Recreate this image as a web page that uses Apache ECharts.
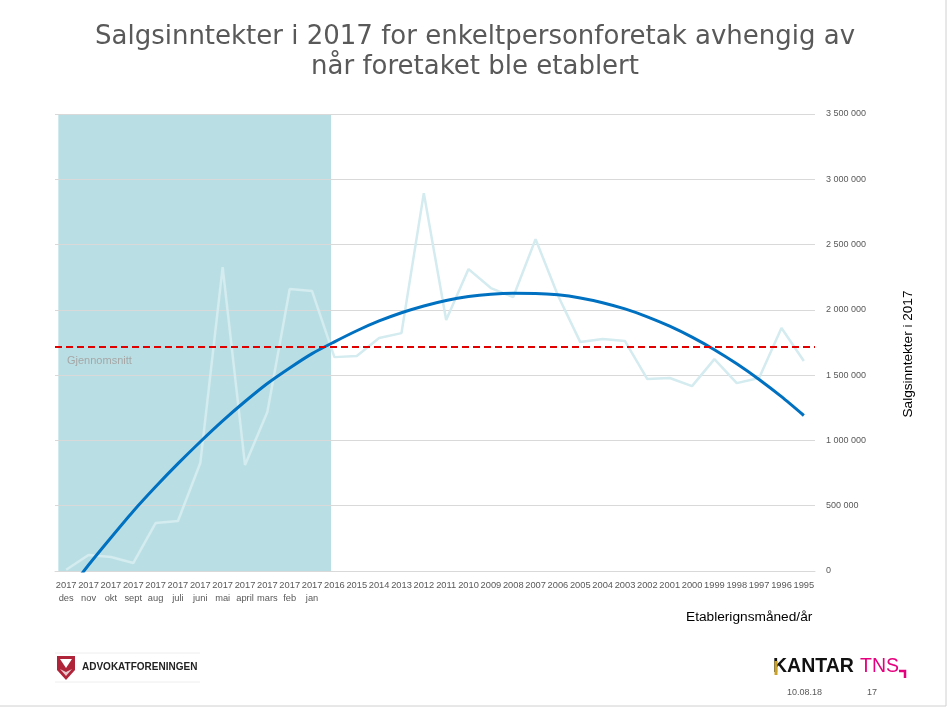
<!DOCTYPE html>
<html>
<head>
<meta charset="utf-8">
<script src="https://cdn.jsdelivr.net/npm/echarts@6/dist/echarts.min.js"></script>
<style>
html,body{margin:0;padding:0;background:#fff;}
#chart{width:950px;height:710px;}
</style>
</head>
<body>
<div id="chart"></div>
<script>
// ---- data ----
var periodYears = ['2017','2017','2017','2017','2017','2017','2017','2017','2017','2017','2017','2017',
  '2016','2015','2014','2013','2012','2011','2010','2009','2008','2007','2006','2005','2004','2003',
  '2002','2001','2000','1999','1998','1997','1996','1995'];
var periodMonths = ['des','nov','okt','sept','aug','juli','juni','mai','april','mars','feb','jan'];
var salesValues = [10000,122000,107000,61000,367000,383000,827000,2328000,812000,1217000,2159000,2144000,
  1638000,1646000,1784000,1822000,2894000,1922000,2312000,2167000,2098000,2542000,2110000,1753000,1776000,1761000,
  1470000,1478000,1416000,1623000,1439000,1478000,1861000,1608000];
var trendValues = [-180000,46000,255000,458000,645000,822000,990000,1150000,1298000,1436000,1555000,1665000,
  1755000,1840000,1915000,1978000,2030000,2072000,2102000,2120000,2127000,2126000,2115000,2091000,2055000,2007000,
  1947000,1875000,1791000,1695000,1587000,1467000,1335000,1191000];
var averageValue = 1717000;
var yTicks = [0,500000,1000000,1500000,2000000,2500000,3000000,3500000];
var firstYearSpan = [0.15, 12.35]; // in category-index units
var titleText = 'Salgsinntekter i 2017 for enkeltpersonforetak avhengig av\nnår foretaket ble etablert';

var categories = periodYears.map(function(y, i){
  return y + '\n' + (periodMonths[i] || '');
});

function fmt(v){ return String(v).replace(/\B(?=(\d{3})+(?!\d))/g, ' '); }

var chart = echarts.init(document.getElementById('chart'), null, {renderer:'canvas'});
var FONT = 'Liberation Sans';
var option = {
  backgroundColor: '#ffffff',
  animation: false,
  textStyle: {fontFamily: FONT},
  title: {
    text: titleText,
    left: 'center',
    top: 17,
    textStyle: {fontSize: 26, fontWeight: 'normal', color: '#595959', lineHeight: 30, fontFamily: 'DejaVu Sans'}
  },
  grid: {left: 55, right: 135, top: 114, bottom: 139},
  xAxis: [{
    type: 'category',
    data: categories,
    boundaryGap: true,
    axisLine: {show: true, lineStyle: {color: '#d9d9d9', width: 1}},
    axisTick: {show: false},
    axisLabel: {interval: 0, fontSize: 9.3, color: '#595959', lineHeight: 13, margin: 8, fontFamily: FONT},
    splitLine: {show: false}
  },{
    type: 'value',
    min: 0,
    max: periodYears.length,
    show: false
  }],
  yAxis: {
    type: 'value',
    position: 'right',
    min: yTicks[0],
    max: yTicks[yTicks.length-1],
    interval: yTicks[1]-yTicks[0],
    z: 2,
    axisLine: {show: false},
    axisTick: {show: false},
    axisLabel: {fontSize: 9, color: '#595959', margin: 11, formatter: fmt, fontFamily: FONT},
    splitLine: {show: true, lineStyle: {color: '#d9d9d9', width: 1}}
  },
  series: [{
    name: 'shade',
    type: 'line',
    xAxisIndex: 1,
    z: 1,
    data: [[0, 0]],
    symbol: 'none',
    lineStyle: {opacity: 0},
    silent: true,
    markArea: {
      silent: true,
      itemStyle: {color: '#b9dfe4'},
      data: [[{xAxis: firstYearSpan[0]}, {xAxis: firstYearSpan[1]}]]
    }
  },{
    name: 'Salgsinntekter',
    type: 'line',
    z: 3,
    data: salesValues,
    symbol: 'none',
    lineStyle: {color: 'rgb(212,235,239)', width: 2.5}
  },{
    name: 'Trend',
    type: 'line',
    z: 4,
    data: trendValues,
    symbol: 'none',
    smooth: 0.25,
    clip: true,
    lineStyle: {color: '#0070c0', width: 3},
    markLine: {
      silent: true,
      symbol: 'none',
      lineStyle: {color: '#e00000', width: 2, type: [7, 4]},
      label: {
        show: true,
        position: 'insideStartBottom',
        formatter: 'Gjennomsnitt',
        color: '#a6a6a6',
        fontSize: 11,
        distance: [12, 9],
        fontFamily: FONT
      },
      data: [{yAxis: averageValue}]
    }
  }],
  graphic: [
    {type: 'text', left: 137, top: 129, style: {text: 'Det første året', fontSize: 13.6, fill: '#000', fontFamily: FONT}},
    {type: 'text', x: 908, y: 354, rotation: Math.PI/2,
      style: {text: 'Salgsinntekter i 2017', fontSize: 13.6, fill: '#000', fontFamily: FONT, textAlign: 'center', textVerticalAlign: 'middle'}},
    {type: 'text', left: 686, top: 610, style: {text: 'Etablerignsmåned/år', fontSize: 13.7, fill: '#000', fontFamily: FONT}},
    // logo left
    {type: 'line', shape: {x1: 55, y1: 653, x2: 200, y2: 653}, style: {stroke: '#eeeeee', lineWidth: 1}},
    {type: 'line', shape: {x1: 55, y1: 682, x2: 200, y2: 682}, style: {stroke: '#eeeeee', lineWidth: 1}},
    {type: 'polygon', shape: {points: [[57,656],[75,656],[75,670],[66,680],[57,670]]}, style: {fill: '#b0243a'}},
    {type: 'polygon', shape: {points: [[60,659],[72,659],[66,668]]}, style: {fill: '#ffffff'}},
    {type: 'polygon', shape: {points: [[60,669],[66,676],[72,669],[66,672]]}, style: {fill: '#e8c8cc'}},
    {type: 'text', left: 82, top: 662, style: {text: 'ADVOKATFORENINGEN', fontSize: 10, fill: '#222', fontFamily: FONT, fontWeight: 'bold'}},
    // Kantar TNS
    {type: 'text', left: 773, top: 657, style: {text: 'KANTAR', fontSize: 19.5, fill: '#111', fontFamily: FONT, fontWeight: 'bold'}},
    {type: 'rect', shape: {x: 774.5, y: 661, width: 3, height: 14}, style: {fill: '#c9a227'}},
    {type: 'text', left: 860, top: 657, style: {text: 'TNS', fontSize: 19.5, fill: '#e5007d', fontFamily: FONT}},
    {type: 'polyline', shape: {points: [[899,671],[905,671],[905,678]]}, style: {stroke: '#e5007d', lineWidth: 2.5, fill: null}},
    {type: 'text', left: 787, top: 688, style: {text: '10.08.18', fontSize: 9, fill: '#595959', fontFamily: FONT}},
    {type: 'text', left: 867, top: 688, style: {text: '17', fontSize: 9, fill: '#595959', fontFamily: FONT}},
    // slide border
    {type: 'line', shape: {x1: 946, y1: 0, x2: 946, y2: 706}, style: {stroke: '#d0d0d0', lineWidth: 1}},
    {type: 'line', shape: {x1: 0, y1: 706, x2: 946, y2: 706}, style: {stroke: '#d0d0d0', lineWidth: 1}}
  ]
};
chart.setOption(option);
</script>
</body>
</html>
